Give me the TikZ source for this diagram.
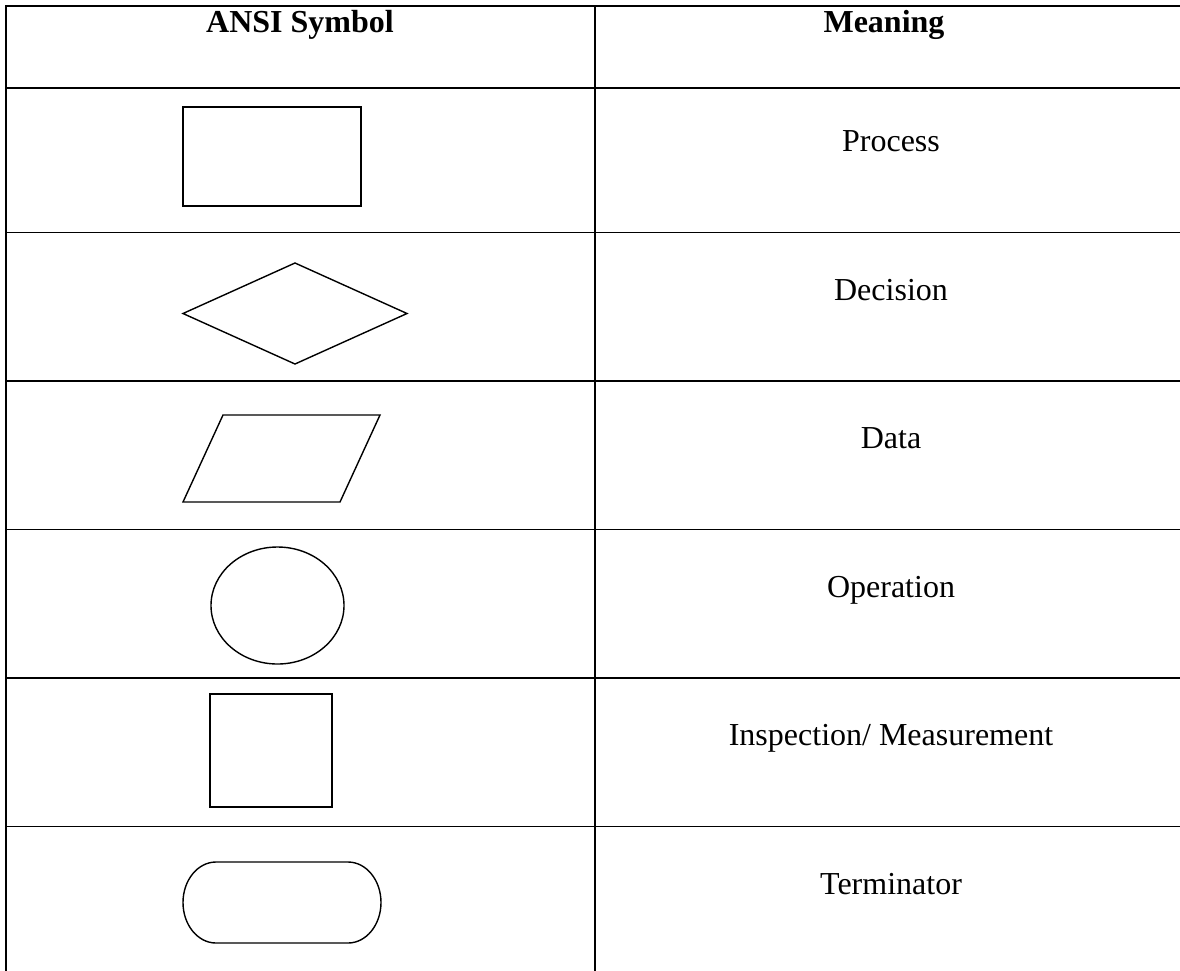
\documentclass[tikz,border=0pt]{standalone}
\usepackage{fontspec}
\setmainfont{Liberation Serif}
\begin{document}
\begin{tikzpicture}[x=1pt,y=-1pt,
  rule/.style={line width=1.8pt},
  symbolline/.style={line width=1.4pt, line join=miter},
  cell/.style={inner sep=0pt, anchor=base, font=\fontsize{32}{38}\selectfont},
  headcell/.style={cell, font=\fontsize{32}{38}\selectfont\bfseries}]
\useasboundingbox (0,0) rectangle (1180,970);
\begin{scope}
\clip (0,0) rectangle (1180,970);
% table rules
\draw[rule] (6,6) -- (1190,6);
\foreach \y in {88,232.5,381,529.5,678,826.5}
  \draw[rule] (6,\y) -- (1190,\y);
\draw[rule] (6,5) -- (6,980);
\draw[rule] (595,5) -- (595,980);
\end{scope}
% header
\node[headcell] (h1) at (300,32) {ANSI Symbol};
\node[headcell] (h2) at (884,32) {Meaning};
% symbols
\draw[symbolline] (183,107) rectangle (361,206);
\draw[symbolline] (295,263) -- (407,313.5) -- (295,364) -- (183,313.5) -- cycle;
\draw[symbolline] (223,415) -- (380,415) -- (340,502) -- (183,502) -- cycle;
\draw[symbolline] (277.5,605.5) ellipse [x radius=66.5, y radius=58.5];
\draw[symbolline] (210,694) rectangle (332,807);
\draw[symbolline] (216,862) -- (348,862)
  arc[start angle=90, end angle=-90, x radius=33, y radius=-40.5]
  -- (216,943)
  arc[start angle=270, end angle=90, x radius=33, y radius=-40.5] -- cycle;
% meanings
\node[cell] (m1) at (891,151) {Process};
\node[cell] (m2) at (891,300) {Decision};
\node[cell] (m3) at (891,448.5) {Data};
\node[cell] (m4) at (891,597) {Operation};
\node[cell] (m5) at (891,745.5) {Inspection/ Measurement};
\node[cell] (m6) at (891,894) {Terminator};
\end{tikzpicture}
\end{document}
